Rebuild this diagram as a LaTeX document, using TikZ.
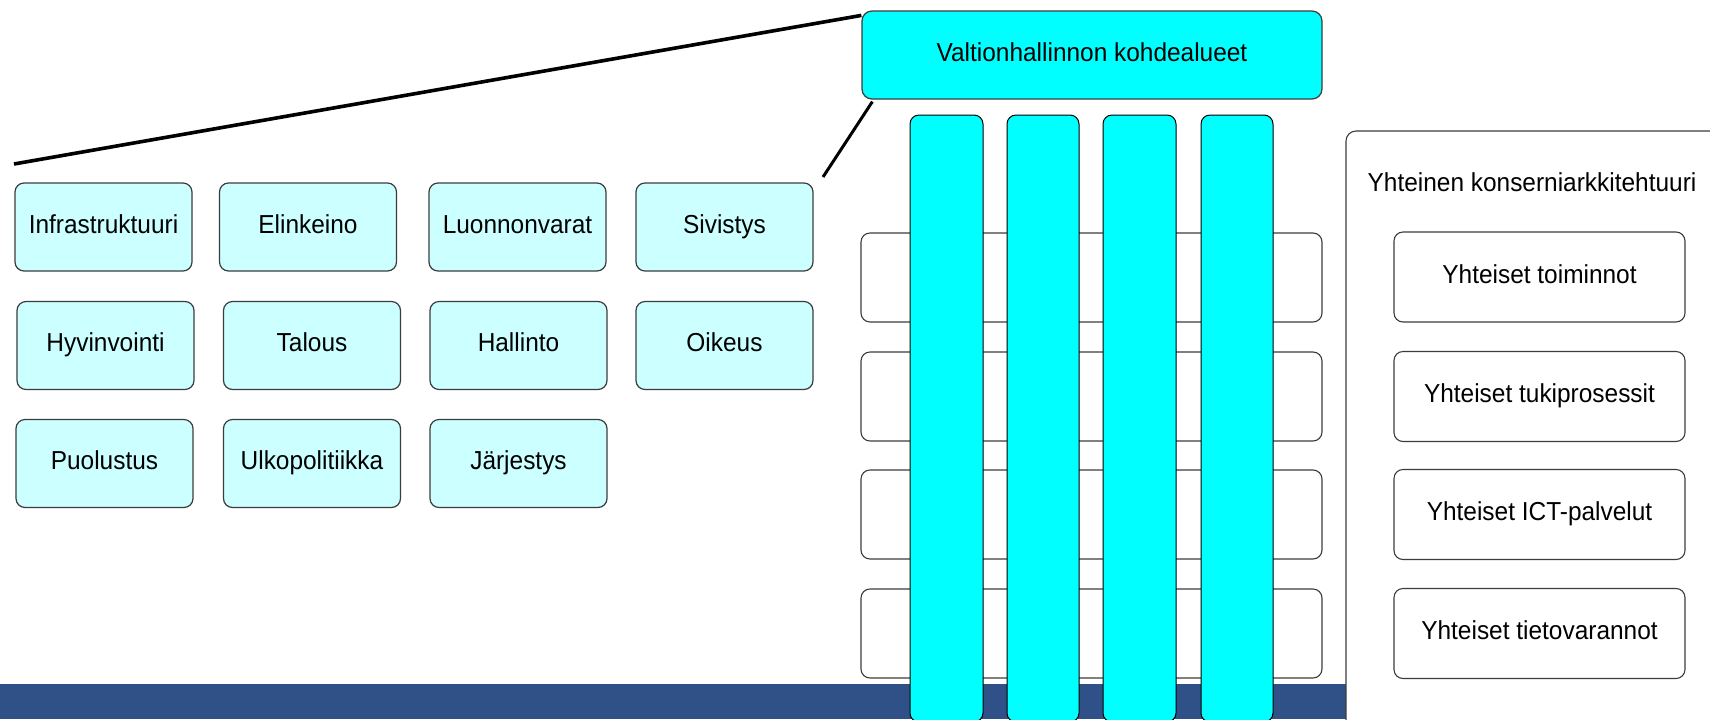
\documentclass[tikz,border=0pt]{standalone}
\usepackage{fontspec}
\setmainfont{Liberation Sans}[FakeStretch=0.94]
\usetikzlibrary{calc}
\definecolor{pillarcyan}{RGB}{0,255,255}
\definecolor{palecyan}{RGB}{204,255,255}
\definecolor{bandblue}{RGB}{48,81,135}
\definecolor{edgegray}{RGB}{60,60,60}
\tikzset{
  lbl/.style={font=\fontsize{13}{15}\selectfont, text height=0.72em, text depth=0.12em},
  areabox/.style={draw=edgegray, line width=0.6pt, fill=palecyan, rounded corners=4.5pt,
    minimum width=88.5pt, minimum height=44pt, inner sep=0pt, lbl},
  shelfbox/.style={draw=edgegray, line width=0.55pt, fill=white, rounded corners=4.5pt},
  pillarbox/.style={draw=black, line width=0.5pt, fill=pillarcyan, rounded corners=4.5pt},
  commonbox/.style={draw=edgegray, line width=0.55pt, fill=white, rounded corners=4.5pt,
    minimum width=145.5pt, minimum height=45pt, inner sep=0pt, lbl},
  callout/.style={draw=black, line width=1.8pt},
}
\begin{document}
\begin{tikzpicture}[x=0.5pt,y=-0.5pt]
\useasboundingbox (0,0) rectangle (1710,719);
\clip (0,0) rectangle (1710,719);
\fill[white] (0,0) rectangle (1710,719);
% band
\fill[bandblue] (0,684) rectangle (1710,719);
% top box
\node[draw=edgegray, line width=0.6pt, fill=pillarcyan, rounded corners=5pt,
  minimum width=230pt, minimum height=44pt, inner sep=0pt, lbl] (top) at (1092,55) {Valtionhallinnon kohdealueet};
% callout lines
\coordinate (la) at (14,164);
\coordinate (lb) at (823,177);
\draw[callout] (la) -- ($(top.north west)+(0,5)$);
\draw[callout, line width=1.5pt] ($(top.south west)+(11,2)$) -- (lb);
% left grid
\node[areabox] (infra) at (103.5,227) {Infrastruktuuri};
\node[areabox] (elin) at (308,227) {Elinkeino};
\node[areabox] (luon) at (517.5,227) {Luonnonvarat};
\node[areabox] (sivi) at (724.5,227) {Sivistys};
\node[areabox] (hyvi) at (105.5,345.5) {Hyvinvointi};
\node[areabox] (talo) at (312,345.5) {Talous};
\node[areabox] (hall) at (518.5,345.5) {Hallinto};
\node[areabox] (oike) at (724.5,345.5) {Oikeus};
\node[areabox] (puol) at (104.5,463.5) {Puolustus};
\node[areabox] (ulko) at (312,463.5) {Ulkopolitiikka};
\node[areabox] (jarj) at (518.5,463.5) {Järjestys};
% shelves behind pillars
\draw[shelfbox] (861,233) rectangle (1322,322);
\draw[shelfbox] (861,352) rectangle (1322,441);
\draw[shelfbox] (861,470) rectangle (1322,559);
\draw[shelfbox] (861,589) rectangle (1322,678);
% pillars
\draw[pillarbox] (910,115) rectangle (983,722);
\draw[pillarbox] (1007,115) rectangle (1079,722);
\draw[pillarbox] (1103,115) rectangle (1176,722);
\draw[pillarbox] (1201,115) rectangle (1273,722);
% right container
\draw[draw=edgegray, line width=0.55pt, fill=white, rounded corners=5pt] (1346,131) rectangle (1760,780);
\node[lbl, inner sep=0pt] (ktitle) at (1532,185) {Yhteinen konserniarkkitehtuuri};
\node[commonbox] (c1) at (1539.5,277) {Yhteiset toiminnot};
\node[commonbox] (c2) at (1539.5,396.5) {Yhteiset tukiprosessit};
\node[commonbox] (c3) at (1539.5,514.5) {Yhteiset ICT-palvelut};
\node[commonbox] (c4) at (1539.5,633.5) {Yhteiset tietovarannot};
\end{tikzpicture}
\end{document}
